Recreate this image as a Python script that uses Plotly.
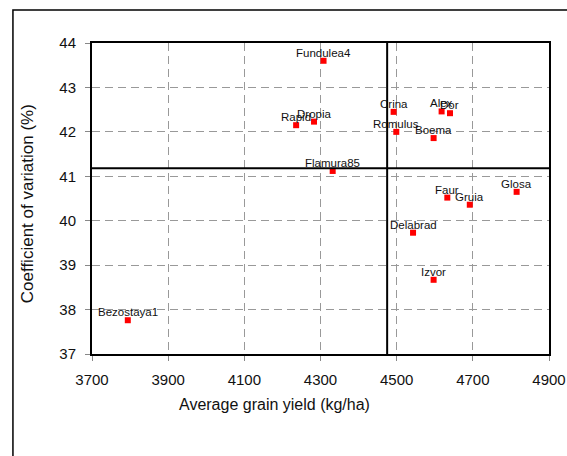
import plotly.graph_objects as go

# Data
cultivars = ["Fundulea4", "Rapid", "Dropia", "Flamura85", "Crina", "Romulus",
             "Alex", "Dor", "Boema", "Glosa", "Faur", "Gruia", "Delabrad",
             "Izvor", "Bezostaya1"]
avg_yield = [4308, 4236, 4283, 4332, 4492, 4499, 4618, 4640, 4597, 4815,
             4633, 4692, 4543, 4597, 3794]
cv_percent = [43.60, 42.15, 42.23, 41.12, 42.45, 42.00, 42.46, 42.42, 41.86,
              40.65, 40.52, 40.36, 39.73, 38.67, 37.76]
mean_yield = 4475
mean_cv = 41.18

x_title = "Average grain yield (kg/ha)"
y_title = "Coefficient of variation (%)"

FONT = "Liberation Sans, Arial, sans-serif"

fig = go.Figure()
fig.add_trace(go.Scatter(
    x=avg_yield, y=cv_percent,
    mode="markers",
    marker=dict(symbol="square", size=6, color="#ff0000"),
    cliponaxis=False, showlegend=False,
))

# Point labels just above each marker
for name, xv, yv in zip(cultivars, avg_yield, cv_percent):
    fig.add_annotation(x=xv, y=yv, text=name, showarrow=False,
                       xanchor="center", yanchor="bottom", yshift=0,
                       font=dict(family=FONT, size=11.5, color="#111"))

# Mean reference lines
fig.add_shape(type="line", xref="x", yref="paper", x0=mean_yield, x1=mean_yield,
              y0=0, y1=1, line=dict(color="black", width=2))
fig.add_shape(type="line", xref="paper", yref="y", x0=0, x1=1,
              y0=mean_cv, y1=mean_cv, line=dict(color="black", width=2))

# Outer frame around the chart
fig.add_shape(type="rect", xref="paper", yref="paper",
              x0=-0.173, x1=1.07, y0=-0.37, y1=1.106,
              line=dict(color="black", width=1.5), fillcolor="rgba(0,0,0,0)")

axis_common = dict(
    showline=True, linecolor="black", linewidth=2, mirror=True,
    ticks="outside", ticklen=5, tickcolor="#888",
    showgrid=True, gridcolor="#999", gridwidth=1, griddash="8px,5px",
    zeroline=False, automargin=False,
    tickfont=dict(family=FONT, size=15, color="#111"),
)

fig.update_xaxes(range=[3700, 4900], dtick=200, tick0=3700,
                 ticklabelstandoff=6, **axis_common)
fig.update_yaxes(range=[37, 44], dtick=1, tick0=37,
                 ticklabelstandoff=6, **axis_common)

fig.add_annotation(text=x_title, xref="paper", yref="paper", x=0.40, y=-0.129,
                   xanchor="center", yanchor="top", showarrow=False,
                   font=dict(family=FONT, size=16, color="#111"))
fig.add_annotation(text=y_title, xref="paper", yref="paper", x=-0.142, y=0.482,
                   xanchor="center", yanchor="middle",
                   textangle=-90, showarrow=False,
                   font=dict(family=FONT, size=17, color="#111"))

fig.update_layout(
    width=567, height=456,
    margin=dict(l=92, r=18, t=43, b=102, autoexpand=False),
    paper_bgcolor="white", plot_bgcolor="white",
    font=dict(family=FONT, color="#111"),
)

# Remove the default 8px page margin so the figure fills the window exactly
fig.write_html("out.html", config={"displayModeBar": False},
               post_script="document.body.style.margin='0';")
